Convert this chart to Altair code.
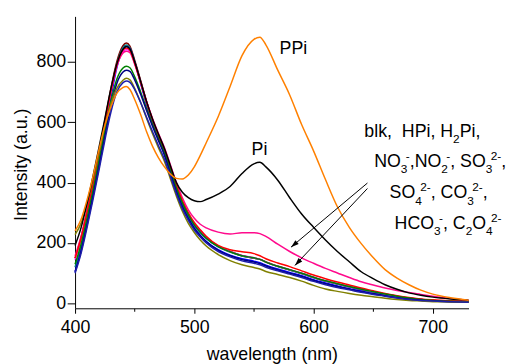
import math
import altair as alt
import pandas as pd

# ---------------- data ----------------
wavelength = [400, 405, 410, 415, 420, 425, 430, 435, 440, 443, 446, 450, 455, 460, 465, 470,
              475, 480, 485, 490, 495, 500, 505, 510, 520, 530, 540, 550, 555, 560, 570, 580,
              590, 600, 610, 620, 630, 640, 650, 660, 670, 680, 690, 700, 715, 730]

blk = [150, 218, 305, 400, 500, 605, 710, 800, 852, 862, 852, 805, 738, 668, 608, 555, 505, 445, 385, 335,
       295, 262, 238, 218, 190, 172, 158, 150, 146, 138, 123, 111, 99, 86, 74, 64, 55, 46, 38, 30, 23, 17,
       13, 10, 7, 6]
HPi = [120, 190, 280, 380, 485, 592, 700, 792, 845, 855, 846, 800, 732, 662, 602, 550, 500, 440, 380, 332,
       292, 258, 235, 215, 187, 170, 157, 150, 146, 137, 122, 111, 99, 86, 74, 64, 55, 46, 38, 30, 23, 17,
       13, 10, 7, 5]
H2Pi = [105, 175, 265, 365, 465, 572, 680, 780, 838, 850, 843, 798, 728, 658, 598, 545, 495, 432, 372, 322,
        283, 250, 226, 206, 178, 160, 148, 140, 135, 127, 114, 103, 92, 79, 68, 58, 49, 41, 33, 26, 20, 15,
        11, 8, 6, 4]
NO3 = [145, 212, 298, 392, 492, 595, 698, 785, 832, 840, 835, 795, 732, 665, 606, 555, 505, 446, 387, 337,
       297, 263, 239, 219, 190, 172, 159, 151, 146, 137, 123, 112, 100, 87, 75, 65, 56, 47, 39, 31, 24, 18,
       14, 10, 7, 6]
NO2 = [157, 222, 305, 398, 495, 598, 700, 785, 828, 835, 830, 792, 732, 668, 612, 562, 515, 458, 400, 350,
       310, 282, 262, 250, 236, 230, 234, 234, 231, 222, 196, 172, 151, 133, 116, 101, 86, 72, 61, 51, 43, 36,
       30, 24, 16, 11]
SO3 = [150, 215, 300, 395, 495, 598, 702, 790, 838, 845, 838, 796, 732, 666, 607, 556, 507, 449, 390, 340,
       300, 268, 244, 222, 192, 178, 171, 165, 158, 148, 134, 122, 108, 94, 82, 71, 61, 51, 42, 33, 26, 20,
       15, 12, 9, 7]
SO4 = [130, 195, 280, 372, 470, 570, 668, 742, 778, 785, 780, 750, 700, 645, 593, 545, 498, 440, 382, 333,
       293, 260, 236, 216, 188, 171, 158, 151, 146, 137, 123, 112, 100, 87, 75, 65, 56, 47, 39, 31, 24, 18,
       13, 10, 7, 5]
CO3 = [105, 172, 258, 352, 450, 552, 650, 728, 765, 772, 768, 740, 692, 638, 586, 538, 490, 430, 370, 320,
       281, 248, 224, 204, 176, 158, 145, 137, 132, 124, 111, 100, 89, 76, 65, 56, 47, 39, 32, 25, 19, 14,
       11, 8, 6, 4]
HCO3 = [228, 265, 330, 410, 498, 585, 660, 712, 738, 745, 740, 712, 665, 612, 562, 515, 470, 412, 355, 305,
        265, 235, 210, 190, 162, 142, 128, 119, 114, 106, 96, 86, 74, 60, 48, 40, 33, 27, 22, 17, 13, 10,
        8, 6, 5, 4]
C2O4 = [100, 165, 250, 343, 440, 540, 632, 700, 730, 736, 732, 708, 665, 616, 568, 522, 477, 420, 362, 313,
        275, 243, 220, 200, 172, 154, 141, 133, 128, 120, 108, 97, 86, 73, 62, 53, 45, 37, 30, 24, 18, 13,
        10, 8, 6, 4]
Pi = [192, 250, 330, 420, 515, 612, 710, 792, 840, 850, 842, 800, 735, 668, 610, 560, 512, 455, 400, 368,
      350, 340, 337, 344, 362, 387, 430, 462, 467, 452, 408, 350, 296, 252, 210, 172, 138, 105, 82, 62, 47,
      35, 27, 21, 15, 11]
PPi = [240, 278, 342, 420, 508, 590, 650, 695, 714, 718, 708, 675, 625, 568, 520, 482, 452, 428, 414, 412,
       425, 452, 490, 532, 618, 718, 820, 874, 881, 856, 772, 690, 592, 505, 410, 320, 252, 198, 152, 112,
       84, 62, 44, 31, 19, 11]

series_names = ["blk", "HPi", "H2Pi", "NO3-", "NO2-", "SO32-", "SO42-", "CO32-", "HCO3-", "C2O42-", "Pi", "PPi"]
series_values = [blk, HPi, H2Pi, NO3, NO2, SO3, SO4, CO3, HCO3, C2O4, Pi, PPi]
series_colors = ["#800000", "#008080", "#0000FF", "#FF00FF", "#FF0A8C", "#FF0000", "#008000",
                 "#000080", "#808000", "#1E1EAA", "#000000", "#FF8000"]

x_ticks = [400, 450, 500, 550, 600, 650, 700]
y_ticks = [0, 100, 200, 300, 400, 500, 600, 700, 800, 900]

# annotation anchors (data units)
label_ppi = (571.5, 825, "PPi")
label_pi = (548.0, 490, "Pi")
arrow_starts = [(645.2, 398.5), (645.2, 380.5)]
arrow_ends = [(581.1, 186.3), (584.4, 126.0)]
block_lines = [
    (642.6, 551.8, [("n", "blk,"), ("gap", "  "), ("n", "HPi, H"), ("b", "2"), ("n", "Pi,")]),
    (650.9, 451.7, [("n", "NO"), ("bp", "3", "-"), ("n", ",NO"), ("bp", "2", "-"), ("n", ", SO"),
                    ("bp", "3", "2-"), ("n", ",")]),
    (663.8, 348.5, [("n", "SO"), ("bp", "4", "2-"), ("n", ", CO"), ("bp", "3", "2-"), ("n", ",")]),
    (668.0, 246.5, [("n", "HCO"), ("bp", "3", "-"), ("n", ", C"), ("b", "2"), ("n", "O"), ("bp", "4", "2-")]),
]

# ---------------- layout ----------------
W, H = 399, 296
XD = [400, 730]
YD = [-16, 950]
PXN = W / (XD[1] - XD[0])
PXU = H / (YD[1] - YD[0])
FONT = "Liberation Sans"
FS, FSS = 18, 12
SUB, SUP = 6.5, 7.5

rows = []
for name, vals in zip(series_names, series_values):
    for w, v in zip(wavelength, vals):
        rows.append({"wl": w, "I": v, "s": name})
df = pd.DataFrame(rows)

CW = {'b': .556, 'l': .222, 'k': .5, ',': .278, ' ': .278, 'H': .722, 'P': .667, 'i': .222,
      'N': .722, 'O': .778, 'S': .667, 'C': .722, '2': .556, '3': .556, '4': .556, '-': .333}


def tw(s, fs):
    return sum(CW[c] for c in s) * fs


norm_rows = [{"wl": label_ppi[0], "I": label_ppi[1], "t": label_ppi[2]},
             {"wl": label_pi[0], "I": label_pi[1], "t": label_pi[2]}]
scr_rows = []
for x0, y0, toks in block_lines:
    px = 0.0
    for t in toks:
        k = t[0]
        if k == "n":
            norm_rows.append({"wl": x0 + px / PXN, "I": y0, "t": t[1]})
            px += tw(t[1], FS)
        elif k == "gap":
            px += tw(t[1], FS)
        elif k == "b":
            scr_rows.append({"wl": x0 + px / PXN, "I": y0 - SUB / PXU, "t": t[1]})
            px += tw(t[1], FSS)
        elif k == "bp":
            wsub, wsup = tw(t[1], FSS), tw(t[2], FSS)
            scr_rows.append({"wl": x0 + px / PXN, "I": y0 - SUB / PXU, "t": t[1]})
            scr_rows.append({"wl": x0 + (px + 0.75 * wsub) / PXN, "I": y0 + SUP / PXU, "t": t[2]})
            px += max(wsub, 0.75 * wsub + wsup)

arr_rows = []
for (xs, ys), (xe, ye) in zip(arrow_starts, arrow_ends):
    dxp = (xe - xs) * PXN
    dyp = -(ye - ys) * PXU
    ang = math.degrees(math.atan2(dxp, -dyp)) % 360
    arr_rows.append({"wl": xs, "I": ys, "wl2": xe, "I2": ye, "ang": ang})
arr_df = pd.DataFrame(arr_rows)

xscale = alt.Scale(domain=XD, nice=False, zero=False)
yscale = alt.Scale(domain=YD, nice=False, zero=False)

xaxis = alt.Axis(
    title="wavelength (nm)", values=x_ticks,
    labelExpr="datum.value % 100 === 0 ? datum.label : ''",
    tickSize={"condition": {"test": "datum.value % 100 === 0", "value": 5}, "value": 3},
    labelPadding=6, labelFlush=False, labelOverlap=False, grid=False,
    labelFont=FONT, labelFontSize=FS, labelColor="black",
    titleFont=FONT, titleFontSize=FS, titleFontWeight="normal", titleColor="black",
    titleX=199.5, titleY=51.5, titleBaseline="alphabetic", titleAlign="center",
    domainColor="black", tickColor="black", domainWidth=1, tickWidth=1,
)
yaxis = alt.Axis(
    title="Intensity (a.u.)", values=y_ticks,
    labelExpr="datum.value % 200 === 0 ? datum.label : ''",
    tickSize={"condition": {"test": "datum.value % 200 === 0", "value": 8}, "value": 4},
    labelPadding=1.5, labelOverlap=False, grid=False,
    labelFont=FONT, labelFontSize=FS, labelColor="black",
    titleFont=FONT, titleFontSize=FS, titleFontWeight="normal", titleColor="black",
    titleAngle=270, titleX=-49.3, titleY=150, titleBaseline="alphabetic", titleAlign="center",
    domainColor="black", tickColor="black", domainWidth=1, tickWidth=1,
)

lines = alt.Chart(df).mark_line(strokeWidth=1.5, interpolate="monotone").encode(
    x=alt.X("wl:Q", scale=xscale, axis=xaxis),
    y=alt.Y("I:Q", scale=yscale, axis=yaxis),
    color=alt.Color("s:N", scale=alt.Scale(domain=series_names, range=series_colors), legend=None),
)

rules = alt.Chart(arr_df).mark_rule(color="black", strokeWidth=1).encode(
    x="wl:Q", y="I:Q", x2="wl2:Q", y2="I2:Q"
)
heads = alt.Chart(arr_df).mark_point(
    shape="M0,0L0.32,1L-0.32,1Z", filled=True, color="black", size=256, opacity=1, strokeWidth=0
).encode(
    x="wl2:Q", y="I2:Q", angle=alt.Angle("ang:Q", scale=None)
)

txt_n = alt.Chart(pd.DataFrame(norm_rows)).mark_text(
    align="left", baseline="alphabetic", font=FONT, fontSize=FS, color="black"
).encode(x="wl:Q", y="I:Q", text="t:N")
txt_s = alt.Chart(pd.DataFrame(scr_rows)).mark_text(
    align="left", baseline="alphabetic", font=FONT, fontSize=FSS, color="black"
).encode(x="wl:Q", y="I:Q", text="t:N")

chart = alt.layer(lines, rules, heads, txt_n, txt_s).properties(
    width=W, height=H,
    autosize=alt.AutoSizeParams(type="none"),
    padding={"left": 68, "top": 6, "right": 40, "bottom": 56},
    background="white",
).configure_view(strokeWidth=0)

chart.save("out.html", embed_options={"renderer": "svg", "actions": False})
